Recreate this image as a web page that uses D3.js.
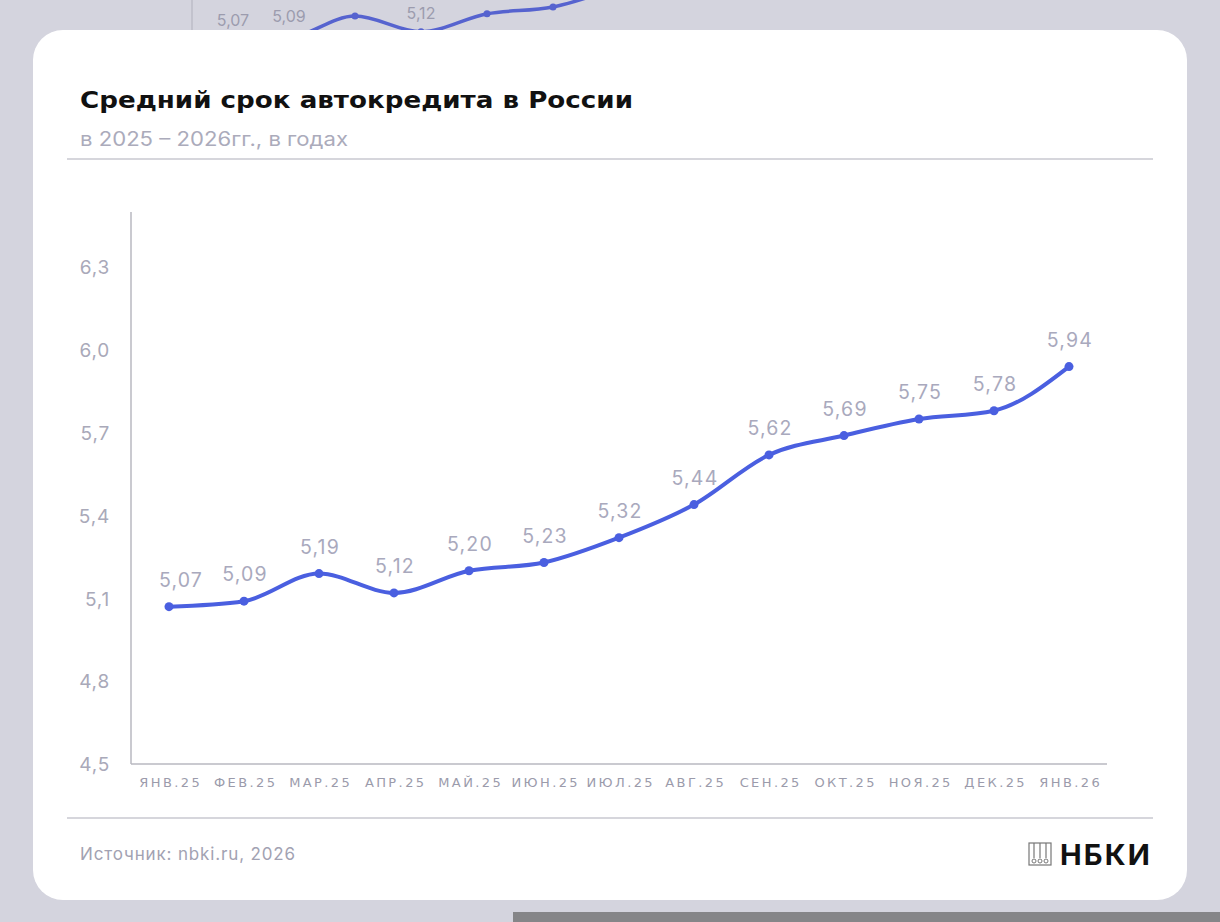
<!DOCTYPE html>
<html><head><meta charset="utf-8">
<script src="https://cdn.jsdelivr.net/npm/d3@7"></script>
<style>
html,body{margin:0;padding:0;background:#d4d4de;}
svg{display:block;}
</style></head>
<body>
<svg id="c" width="1220" height="922"></svg>
<script>
const categories = ["ЯНВ.25","ФЕВ.25","МАР.25","АПР.25","МАЙ.25","ИЮН.25","ИЮЛ.25","АВГ.25","СЕН.25","ОКТ.25","НОЯ.25","ДЕК.25","ЯНВ.26"];
const values = [5.07,5.09,5.19,5.12,5.20,5.23,5.32,5.44,5.62,5.69,5.75,5.78,5.94];
const yTicks = [4.5,4.8,5.1,5.4,5.7,6.0,6.3];
const title = "Средний срок автокредита в России";
const subtitle = "в 2025 – 2026гг., в годах";
const source = "Источник: nbki.ru, 2026";
const brand = "НБКИ";

const svg = d3.select("#c");
const fmt = v => d3.format(".2f")(v).replace(".", ",");
const fmtY = v => d3.format(".1f")(v).replace(".", ",");
const lineColor = "#4a5fe0";
const FONT = "Inter, sans-serif";

// spread text to a target width via letter-spacing
function fit(sel, target) {
  sel.each(function() {
    const t = d3.select(this);
    const n = t.text().length;
    const w = this.getComputedTextLength();
    const ls = (target - w) / Math.max(1, n);
    t.attr("letter-spacing", ls + "px");
  });
}
// stretch glyphs to a target width
function stretch(sel, target) {
  sel.attr("textLength", target).attr("lengthAdjust", "spacingAndGlyphs");
}

// ghost chart behind (background screenshot)
const gx = d3.scalePoint().domain(categories).range([223, 223 + 66*12]);
const gy = d3.scaleLinear().domain([5.19, 5.23]).range([16, 7]);
const ghost = svg.append("g");
ghost.append("line").attr("x1",192).attr("x2",192).attr("y1",0).attr("y2",40).attr("stroke","#b0b0bc").attr("stroke-width",1);
ghost.append("path").datum(values)
  .attr("d", d3.line().x((d,i)=>gx(categories[i])).y(d=>gy(d)).curve(d3.curveMonotoneX))
  .attr("fill","none").attr("stroke","#5663cf").attr("stroke-width",3.5);
ghost.selectAll("circle").data(values).join("circle")
  .attr("cx",(d,i)=>gx(categories[i])).attr("cy",d=>gy(d)).attr("r",3.5).attr("fill","#5663cf");
const ghostIdx = [0,1,3];
ghost.selectAll("text").data(ghostIdx).join("text")
  .attr("x",i=>gx(categories[i])+ (i===0?10:0)).attr("y",i=>Math.max(19, gy(values[i])-17))
  .attr("text-anchor","middle").attr("font-family",FONT).attr("font-size",16)
  .attr("fill","#9c9cae").text(i=>fmt(values[i]));
svg.append("rect").attr("x",513).attr("y",912).attr("width",707).attr("height",10).attr("fill","#858588");

// card
svg.append("rect").attr("x",33).attr("y",30).attr("width",1154).attr("height",870).attr("rx",30).attr("fill","#ffffff");

svg.append("text").attr("x",80).attr("y",108).attr("font-family","'DejaVu Sans', sans-serif").attr("font-weight",700)
  .attr("font-size",23).attr("fill","#111").text(title).call(stretch, 553);
svg.append("text").attr("x",80).attr("y",146).attr("font-family",FONT)
  .attr("font-size",19.5).attr("fill","#ababbb").text(subtitle).call(stretch, 268);
svg.append("line").attr("x1",67).attr("x2",1153).attr("y1",159).attr("y2",159).attr("stroke","#c9c9d1").attr("stroke-width",1.5);
svg.append("line").attr("x1",67).attr("x2",1153).attr("y1",818).attr("y2",818).attr("stroke","#c9c9d1").attr("stroke-width",1.5);

const x = d3.scalePoint().domain(categories).range([169, 1069]);
const y = d3.scaleLinear().domain([4.5, 6.5]).range([764, 212]);

// axes
svg.append("line").attr("x1",131).attr("x2",131).attr("y1",212).attr("y2",764).attr("stroke","#b9b9c1").attr("stroke-width",1.5);
svg.append("line").attr("x1",131).attr("x2",1107).attr("y1",764).attr("y2",764).attr("stroke","#b9b9c1").attr("stroke-width",1.5);

const yAxis = svg.append("g").attr("transform","translate(110,0)")
  .call(d3.axisLeft(y).tickValues(yTicks).tickSize(0).tickPadding(0).tickFormat(fmtY));
yAxis.select(".domain").remove();
yAxis.selectAll("text").attr("font-family",FONT).attr("font-size",19).attr("fill","#a9a9b9")
  .attr("dy","0.35em").attr("letter-spacing","0.8px");

const xAxis = svg.append("g").attr("transform","translate(0,764)")
  .call(d3.axisBottom(x).tickSize(0).tickPadding(0));
xAxis.select(".domain").remove();
xAxis.selectAll("text").attr("font-family","'DejaVu Sans', sans-serif").attr("font-size",13)
  .attr("letter-spacing","2.4px").attr("fill","#9b9bab").attr("y",23).attr("dy",0).attr("dx","1.2px");

svg.append("path").datum(values)
  .attr("d", d3.line().x((d,i)=>x(categories[i])).y(d=>y(d)).curve(d3.curveMonotoneX))
  .attr("fill","none").attr("stroke",lineColor).attr("stroke-width",4).attr("stroke-linecap","round");
svg.append("g").selectAll("circle").data(values).join("circle")
  .attr("cx",(d,i)=>x(categories[i])).attr("cy",d=>y(d)).attr("r",4.5).attr("fill",lineColor);
svg.append("g").selectAll("text").data(values).join("text")
  .attr("x",(d,i)=>x(categories[i]) + (i===0?11:0) + 1).attr("y",d=>y(d)-20)
  .attr("text-anchor","middle").attr("font-family",FONT).attr("font-size",19.5)
  .attr("letter-spacing","1.2px").attr("fill","#a9a9bd").text(d=>fmt(d));

// footer
svg.append("text").attr("x",80).attr("y",860).attr("font-family",FONT)
  .attr("font-size",17).attr("fill","#a2a2b2").text(source).call(fit, 216);
const logo = svg.append("g");
logo.append("rect").attr("x",1029).attr("y",843).attr("width",22).attr("height",22).attr("fill","none").attr("stroke","#777").attr("stroke-width",1.2);
[1034,1040,1046].forEach(px=>{
  logo.append("line").attr("x1",px).attr("x2",px).attr("y1",843).attr("y2",858).attr("stroke","#777").attr("stroke-width",1.2);
  logo.append("circle").attr("cx",px).attr("cy",861).attr("r",2).attr("fill","none").attr("stroke","#777").attr("stroke-width",1);
});
svg.append("text").attr("x",1060).attr("y",865).attr("font-family",FONT).attr("font-weight",700)
  .attr("font-size",29).attr("fill","#111").text(brand).call(fit, 92);
</script>
</body></html>
